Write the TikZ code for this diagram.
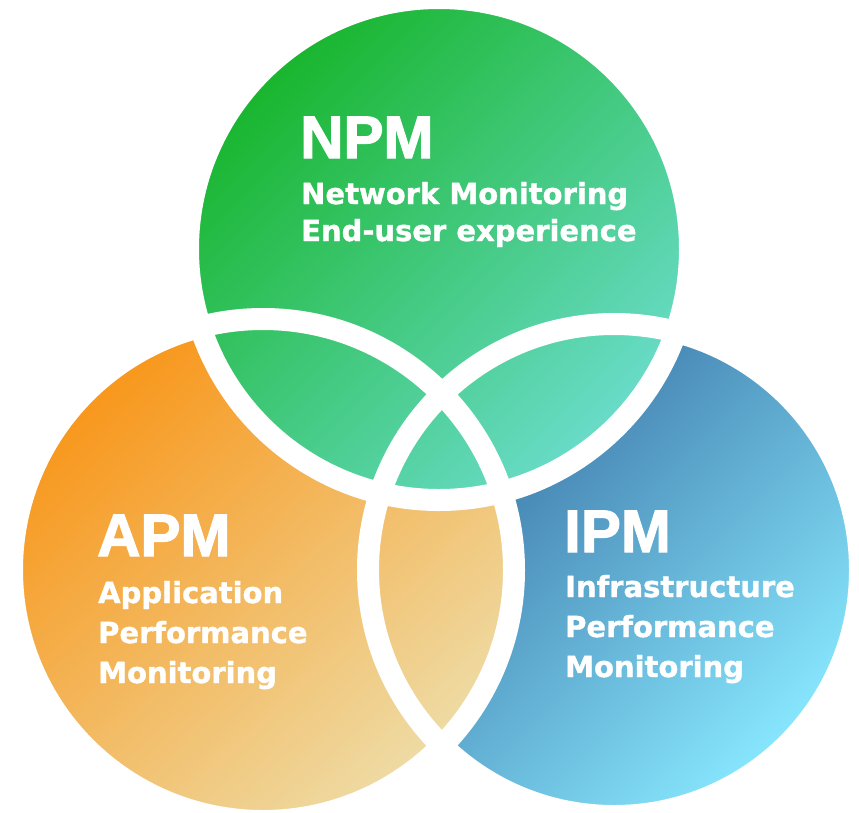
\documentclass[tikz,border=0pt]{standalone}
\usepackage{fontspec}
\newfontfamily\headfont[FakeBold=2]{Liberation Sans Bold}
\newfontfamily\subfont[FakeBold=1.2]{DejaVu Sans Bold}
\definecolor{gUL}{HTML}{18B52C}
\definecolor{gM}{HTML}{40C574}
\definecolor{gLR}{HTML}{6ADCCB}
\definecolor{oUL}{HTML}{F8961A}
\definecolor{oM}{HTML}{FCBC55}
\definecolor{oLR}{HTML}{EEDCA6}
\definecolor{bUL}{HTML}{346A9F}
\definecolor{bM}{HTML}{5AA7D6}
\definecolor{bLR}{HTML}{88E8FE}
\begin{document}
\begin{tikzpicture}[x=1pt,y=-1pt,
  head/.style={anchor=base west, inner sep=0pt, text=white, font=\headfont\fontsize{60}{60}\selectfont},
  sub/.style={anchor=base west, inner sep=0pt, text=white, font=\subfont\fontsize{29}{30}\selectfont},
  gap/.style={draw=white, line width=22pt}]
\fill[white] (0,0) rectangle (859,812);
\useasboundingbox (0,0) rectangle (859,812);
\coordinate (cN) at (439,249);
\coordinate (cA) at (263,570);
\coordinate (cI) at (614,570);
% fills: blue, orange, green on top
\shade[top color=bUL, middle color=bM, bottom color=bLR, shading angle=45] (cI) circle[radius=246pt];
\shade[top color=oUL, middle color=oM, bottom color=oLR, shading angle=42] (cA) circle[radius=251pt];
\shade[top color=gUL, middle color=gM, bottom color=gLR, shading angle=45] (cN) circle[radius=251pt];
% white separating rings
\draw[gap] (cI) circle[radius=246pt];
\draw[gap] (cA) circle[radius=251pt];
\draw[gap] (cN) circle[radius=251pt];
% texts
\node[head] (npm) at (300,158) {NPM};
\node[sub] (npm1) at (301,204) {Network Monitoring};
\node[sub] (npm2) at (301,241) {End-user experience};
\node[head] (apm) at (97,556) {APM};
\node[sub] (apm1) at (98,603) {Application};
\node[sub] (apm2) at (98,643) {Performance};
\node[sub] (apm3) at (98,683) {Monitoring};
\node[head] (ipm) at (564,552) {IPM};
\node[sub] (ipm1) at (565,597) {Infrastructure};
\node[sub] (ipm2) at (565,637) {Performance};
\node[sub] (ipm3) at (565,677) {Monitoring};
\end{tikzpicture}
\end{document}
